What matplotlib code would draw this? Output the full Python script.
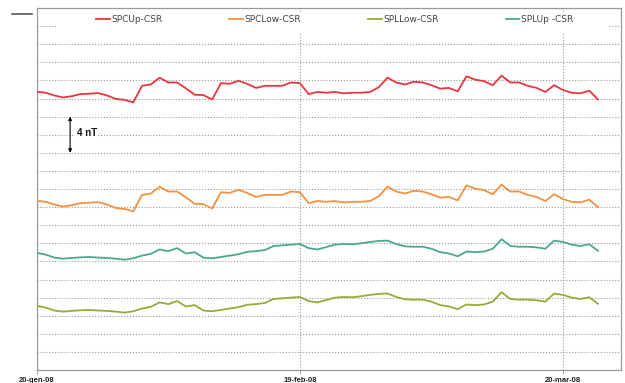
#!/usr/bin/env python3
"""Daily baseline differences at the SPC/SPL stations vs CSR, Jan-Mar 2008."""
import matplotlib
matplotlib.use("Agg")
import matplotlib.pyplot as plt
import matplotlib.dates as mdates
from matplotlib.lines import Line2D
from matplotlib.patches import Rectangle
import pandas as pd

START = "2008-01-20"
N_DAYS = 65

# offsets in nT (stacked so the four curves don't overlap)
spc_up = [30.75, 30.64, 30.34, 30.11, 30.26, 30.49, 30.53, 30.60, 30.34, 29.96,
          29.85, 29.58, 31.40, 31.55, 32.30, 31.77, 31.77, 31.13, 30.42, 30.38,
          29.89, 31.70, 31.62, 31.96, 31.62, 31.17, 31.40, 31.40, 31.40, 31.77,
          31.70, 30.49, 30.72, 30.64, 30.72, 30.57, 30.64, 30.64, 30.72, 31.25,
          32.30, 31.77, 31.55, 31.85, 31.77, 31.47, 31.09, 31.17, 30.79, 32.45,
          32.08, 31.92, 31.47, 32.53, 31.77, 31.77, 31.40, 31.17, 30.72, 31.47,
          30.94, 30.64, 30.57, 30.87, 29.89]
spc_low = [18.70, 18.59, 18.29, 18.06, 18.21, 18.44, 18.48, 18.55, 18.29, 17.91,
           17.80, 17.53, 19.35, 19.50, 20.25, 19.72, 19.72, 19.08, 18.37, 18.33,
           17.84, 19.65, 19.57, 19.91, 19.57, 19.12, 19.35, 19.35, 19.35, 19.72,
           19.65, 18.44, 18.67, 18.59, 18.67, 18.52, 18.59, 18.59, 18.67, 19.20,
           20.25, 19.72, 19.50, 19.80, 19.72, 19.42, 19.04, 19.12, 18.74, 20.40,
           20.03, 19.87, 19.42, 20.48, 19.72, 19.72, 19.35, 19.12, 18.67, 19.42,
           18.89, 18.59, 18.52, 18.82, 18.00]
spl_low = [7.09, 6.90, 6.57, 6.45, 6.53, 6.60, 6.64, 6.57, 6.53, 6.45,
           6.34, 6.49, 6.79, 6.98, 7.47, 7.28, 7.62, 7.02, 7.17, 6.57,
           6.49, 6.64, 6.79, 6.94, 7.21, 7.28, 7.40, 7.85, 7.92, 8.00,
           8.07, 7.62, 7.47, 7.73, 8.00, 8.07, 8.04, 8.15, 8.30, 8.41,
           8.45, 8.07, 7.81, 7.77, 7.77, 7.55, 7.17, 7.02, 6.72, 7.24,
           7.17, 7.24, 7.55, 8.60, 7.85, 7.77, 7.77, 7.70, 7.55, 8.45,
           8.30, 8.00, 7.85, 8.04, 7.32]
spl_up = [12.94, 12.75, 12.42, 12.30, 12.38, 12.45, 12.49, 12.42, 12.38, 12.30,
          12.19, 12.34, 12.64, 12.83, 13.32, 13.13, 13.47, 12.87, 13.02, 12.42,
          12.34, 12.49, 12.64, 12.79, 13.06, 13.13, 13.25, 13.70, 13.77, 13.85,
          13.92, 13.47, 13.32, 13.58, 13.85, 13.92, 13.89, 14.00, 14.15, 14.26,
          14.30, 13.92, 13.66, 13.62, 13.62, 13.40, 13.02, 12.87, 12.57, 13.09,
          13.02, 13.09, 13.40, 14.45, 13.70, 13.62, 13.62, 13.55, 13.40, 14.30,
          14.15, 13.85, 13.70, 13.89, 13.17]

series = [
    ("SPCUp-CSR", spc_up, "#e8363e"),
    ("SPCLow-CSR", spc_low, "#f59140"),
    ("SPLLow-CSR", spl_low, "#9aaa38"),
    ("SPLUp -CSR", spl_up, "#4aa893"),
]

tick_dates = ["2008-01-20", "2008-02-19", "2008-03-20"]
tick_labels = ["20-gen-08", "19-feb-08", "20-mar-08"]
x_end = "2008-03-26 15:00"
scale_bar = (24, 28)  # 4 nT reference


def main():
    dates = pd.date_range(START, periods=N_DAYS, freq="D")

    fig = plt.figure(figsize=(6.25, 3.83), dpi=100)
    ax = fig.add_axes([36.8 / 625, 13 / 383, 584.2 / 625, 362 / 383])
    ax.set_axisbelow(True)

    for label, vals, color in series:
        ax.plot(dates, vals, color=color, lw=1.3, label=label, zorder=3,
                solid_joinstyle="round")

    ax.set_xlim(pd.Timestamp(START), pd.Timestamp(x_end))
    ax.set_ylim(0, 40)
    ax.set_yticks(range(0, 41, 2))
    ax.tick_params(axis="y", length=0, labelleft=False)

    ax.set_xticks([pd.Timestamp(d) for d in tick_dates])
    ax.set_xticklabels(tick_labels, fontsize=5.5, fontweight="bold",
                       color="#222222", family="Liberation Sans")
    ax.tick_params(axis="x", length=3, width=0.6, color="#999999", pad=2)

    ax.grid(True, color="#9a9a9a", lw=0.8, ls=(0, (1, 1.6)))
    for sp in ax.spines.values():
        sp.set_color("#9a9a9a")
        sp.set_linewidth(0.9)

    # white band behind the legend
    ax.add_patch(Rectangle((0.033, 0.93), 0.945, 0.06, transform=ax.transAxes,
                           facecolor="white", edgecolor="none", zorder=1))
    leg = ax.legend(loc="center", bbox_to_anchor=(0.51, 0.967), ncol=4,
                    frameon=False, fontsize=6.5, handlelength=1.5,
                    handletextpad=0.2, columnspacing=7.4,
                    prop={"family": "DejaVu Sans", "size": 6.5})
    for t in leg.get_texts():
        t.set_color("#444444")
    for h in leg.get_lines():
        h.set_linewidth(1.3)

    # 4 nT scale arrow
    x_arrow = pd.Timestamp(START) + pd.Timedelta(days=3.8)
    ax.annotate("", xy=(mdates.date2num(x_arrow), scale_bar[0]),
                xytext=(mdates.date2num(x_arrow), scale_bar[1]),
                arrowprops=dict(arrowstyle="<|-|>", color="black", lw=0.8,
                                mutation_scale=5, shrinkA=0, shrinkB=0),
                zorder=4)
    ax.text(mdates.date2num(x_arrow + pd.Timedelta(days=0.75)),
            sum(scale_bar) / 2 + 0.2, "4 nT", fontsize=7, fontweight="bold",
            family="Liberation Sans", va="center", ha="left", color="#111111",
            bbox=dict(facecolor="white", edgecolor="none", pad=1), zorder=4)

    fig.add_artist(Line2D([12 / 625, 32 / 625], [1 - 14 / 383] * 2,
                          color="#555555", lw=1.2, transform=fig.transFigure))

    fig.savefig("out.png", dpi=100)
    plt.close(fig)


if __name__ == "__main__":
    main()
